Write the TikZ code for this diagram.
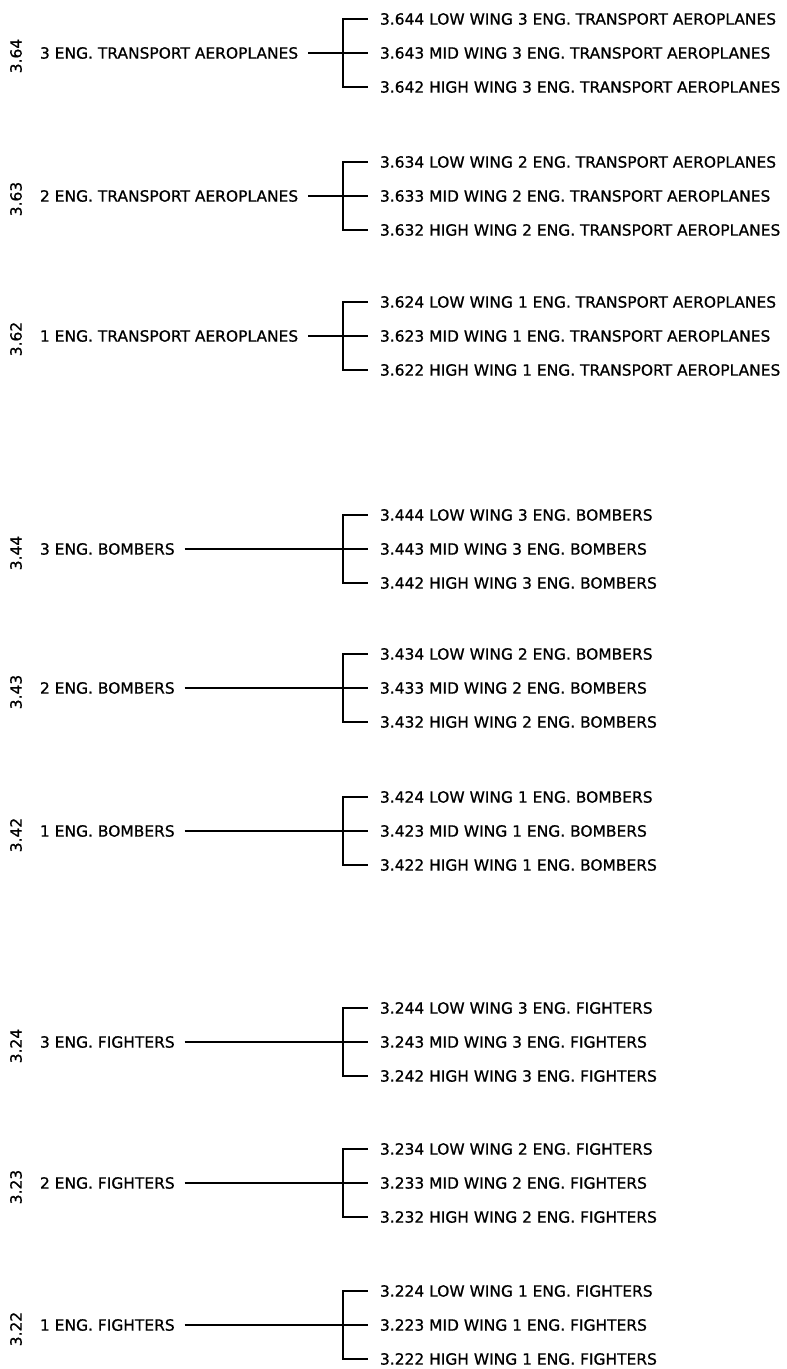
\documentclass[tikz,border=0pt]{standalone}
\usepackage{fontspec}
\setmainfont{DejaVu Sans}[FakeBold=0.8]
\usetikzlibrary{positioning}
\tikzset{
  num/.style={rotate=90, inner sep=0pt, font=\fontsize{8.8pt}{10pt}\selectfont},
  grp/.style={anchor=west, inner sep=0pt, outer xsep=0.2cm, font=\fontsize{8.8pt}{10pt}\selectfont},
  leaf/.style={inner sep=0pt, outer xsep=0.24cm, font=\fontsize{8.8pt}{10pt}\selectfont},
  lnk/.style={line width=1.2pt},
  brk/.style={line width=1.6pt},
}
\begin{document}
\begin{tikzpicture}[x=0.02cm, y=-0.02cm, node distance=0.68cm]
\useasboundingbox (0,0) rectangle (787,1369);

\node[num] (n64) at (16,56) {3.64};
\node[grp] (p64) at (30,53) {3 ENG. TRANSPORT AEROPLANES};
\coordinate (b64) at (343,53);
\node[leaf, right=0.5cm of b64] (c643) {3.643 MID WING 3 ENG. TRANSPORT AEROPLANES};
\node[leaf, above=of c643.west, anchor=west] (c644) {3.644 LOW WING 3 ENG. TRANSPORT AEROPLANES};
\node[leaf, below=of c643.west, anchor=west] (c642) {3.642 HIGH WING 3 ENG. TRANSPORT AEROPLANES};
\draw[lnk] (p64) -- (b64);
\draw[brk] (b64) -- (c643);
\draw[brk] (c644.west) -| (b64) |- (c642.west);

\node[num] (n63) at (16,199) {3.63};
\node[grp] (p63) at (30,196) {2 ENG. TRANSPORT AEROPLANES};
\coordinate (b63) at (343,196);
\node[leaf, right=0.5cm of b63] (c633) {3.633 MID WING 2 ENG. TRANSPORT AEROPLANES};
\node[leaf, above=of c633.west, anchor=west] (c634) {3.634 LOW WING 2 ENG. TRANSPORT AEROPLANES};
\node[leaf, below=of c633.west, anchor=west] (c632) {3.632 HIGH WING 2 ENG. TRANSPORT AEROPLANES};
\draw[lnk] (p63) -- (b63);
\draw[brk] (b63) -- (c633);
\draw[brk] (c634.west) -| (b63) |- (c632.west);

\node[num] (n62) at (16,339) {3.62};
\node[grp] (p62) at (30,336) {1 ENG. TRANSPORT AEROPLANES};
\coordinate (b62) at (343,336);
\node[leaf, right=0.5cm of b62] (c623) {3.623 MID WING 1 ENG. TRANSPORT AEROPLANES};
\node[leaf, above=of c623.west, anchor=west] (c624) {3.624 LOW WING 1 ENG. TRANSPORT AEROPLANES};
\node[leaf, below=of c623.west, anchor=west] (c622) {3.622 HIGH WING 1 ENG. TRANSPORT AEROPLANES};
\draw[lnk] (p62) -- (b62);
\draw[brk] (b62) -- (c623);
\draw[brk] (c624.west) -| (b62) |- (c622.west);

\node[num] (n44) at (16,553) {3.44};
\node[grp] (p44) at (30,549) {3 ENG. BOMBERS};
\coordinate (b44) at (343,549);
\node[leaf, right=0.5cm of b44] (c443) {3.443 MID WING 3 ENG. BOMBERS};
\node[leaf, above=of c443.west, anchor=west] (c444) {3.444 LOW WING 3 ENG. BOMBERS};
\node[leaf, below=of c443.west, anchor=west] (c442) {3.442 HIGH WING 3 ENG. BOMBERS};
\draw[lnk] (p44) -- (b44);
\draw[brk] (b44) -- (c443);
\draw[brk] (c444.west) -| (b44) |- (c442.west);

\node[num] (n43) at (16,692) {3.43};
\node[grp] (p43) at (30,688) {2 ENG. BOMBERS};
\coordinate (b43) at (343,688);
\node[leaf, right=0.5cm of b43] (c433) {3.433 MID WING 2 ENG. BOMBERS};
\node[leaf, above=of c433.west, anchor=west] (c434) {3.434 LOW WING 2 ENG. BOMBERS};
\node[leaf, below=of c433.west, anchor=west] (c432) {3.432 HIGH WING 2 ENG. BOMBERS};
\draw[lnk] (p43) -- (b43);
\draw[brk] (b43) -- (c433);
\draw[brk] (c434.west) -| (b43) |- (c432.west);

\node[num] (n42) at (16,835) {3.42};
\node[grp] (p42) at (30,831) {1 ENG. BOMBERS};
\coordinate (b42) at (343,831);
\node[leaf, right=0.5cm of b42] (c423) {3.423 MID WING 1 ENG. BOMBERS};
\node[leaf, above=of c423.west, anchor=west] (c424) {3.424 LOW WING 1 ENG. BOMBERS};
\node[leaf, below=of c423.west, anchor=west] (c422) {3.422 HIGH WING 1 ENG. BOMBERS};
\draw[lnk] (p42) -- (b42);
\draw[brk] (b42) -- (c423);
\draw[brk] (c424.west) -| (b42) |- (c422.west);

\node[num] (n24) at (16,1046) {3.24};
\node[grp] (p24) at (30,1042) {3 ENG. FIGHTERS};
\coordinate (b24) at (343,1042);
\node[leaf, right=0.5cm of b24] (c243) {3.243 MID WING 3 ENG. FIGHTERS};
\node[leaf, above=of c243.west, anchor=west] (c244) {3.244 LOW WING 3 ENG. FIGHTERS};
\node[leaf, below=of c243.west, anchor=west] (c242) {3.242 HIGH WING 3 ENG. FIGHTERS};
\draw[lnk] (p24) -- (b24);
\draw[brk] (b24) -- (c243);
\draw[brk] (c244.west) -| (b24) |- (c242.west);

\node[num] (n23) at (16,1187) {3.23};
\node[grp] (p23) at (30,1183) {2 ENG. FIGHTERS};
\coordinate (b23) at (343,1183);
\node[leaf, right=0.5cm of b23] (c233) {3.233 MID WING 2 ENG. FIGHTERS};
\node[leaf, above=of c233.west, anchor=west] (c234) {3.234 LOW WING 2 ENG. FIGHTERS};
\node[leaf, below=of c233.west, anchor=west] (c232) {3.232 HIGH WING 2 ENG. FIGHTERS};
\draw[lnk] (p23) -- (b23);
\draw[brk] (b23) -- (c233);
\draw[brk] (c234.west) -| (b23) |- (c232.west);

\node[num] (n22) at (16,1329) {3.22};
\node[grp] (p22) at (30,1325) {1 ENG. FIGHTERS};
\coordinate (b22) at (343,1325);
\node[leaf, right=0.5cm of b22] (c223) {3.223 MID WING 1 ENG. FIGHTERS};
\node[leaf, above=of c223.west, anchor=west] (c224) {3.224 LOW WING 1 ENG. FIGHTERS};
\node[leaf, below=of c223.west, anchor=west] (c222) {3.222 HIGH WING 1 ENG. FIGHTERS};
\draw[lnk] (p22) -- (b22);
\draw[brk] (b22) -- (c223);
\draw[brk] (c224.west) -| (b22) |- (c222.west);

\end{tikzpicture}
\end{document}
